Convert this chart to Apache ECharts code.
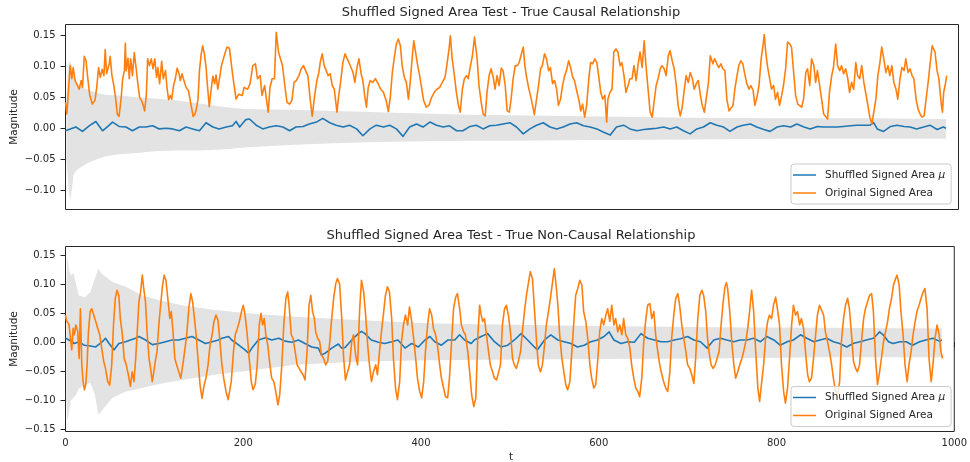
<!DOCTYPE html>
<html>
<head>
<meta charset="utf-8">
<title>Shuffled Signed Area Test</title>
<script src="https://cdn.jsdelivr.net/npm/echarts@6/dist/echarts.min.js"></script>
<style>
  html, body { margin: 0; padding: 0; background: #fff; }
  #chart { width: 970px; height: 462px; }
</style>
</head>
<body>
<div id="chart"></div>
<script>
const muName = 'Shuffled Signed Area μ';
const origName = 'Original Signed Area';
const titles = ['Shuffled Signed Area Test - True Causal Relationship', 'Shuffled Signed Area Test - True Non-Causal Relationship'];

const xTicks = [0, 200, 400, 600, 800, 1000];
const yTicksTop = [-0.10, -0.05, 0.00, 0.05, 0.10, 0.15];
const yTicksBottom = [-0.15, -0.10, -0.05, 0.00, 0.05, 0.10, 0.15];

// [t, value]
const causalOrig = [[0,0.042],[1.5,0.023],[3.4,0.022],[5.2,0.101],[7.1,0.080],[8.6,0.098],[10.8,0.077],[13,0.080],[15.3,0.063],[17.6,0.077],[19,0.066],[21,0.116],[23,0.109],[25,0.080],[27,0.055],[30,0.039],[33,0.045],[35,0.066],[37,0.098],[39,0.082],[41,0.095],[43,0.085],[44.5,0.127],[46,0.088],[49,0.104],[50,0.116],[52,0.085],[54,0.070],[56,0.050],[58,0.023],[60,0.019],[62.4,0.050],[64,0.080],[66,0.093],[67,0.137],[68,0.093],[70,0.113],[71.4,0.080],[73,0.112],[75,0.085],[77,0.122],[79,0.098],[81,0.072],[83,0.050],[85,0.045],[87,0.037],[88.6,0.028],[90.5,0.053],[92,0.112],[94,0.101],[96,0.112],[98,0.096],[100,0.112],[102,0.082],[103.5,0.098],[105.4,0.072],[107.7,0.108],[109.5,0.080],[112,0.093],[113.6,0.066],[115.5,0.046],[117.4,0.053],[119,0.047],[121,0.069],[123,0.080],[125,0.097],[127,0.089],[128.6,0.077],[130.5,0.088],[132,0.080],[135,0.066],[137.6,0.061],[139.4,0.047],[141,0.034],[143,0.019],[145,0.023],[146.5,0.031],[148.4,0.047],[150,0.093],[152,0.120],[153.6,0.133],[155.5,0.120],[157.4,0.098],[159,0.068],[161,0.035],[163,0.061],[165,0.084],[167,0.072],[168.6,0.086],[170.5,0.063],[172.7,0.082],[174.6,0.101],[176.8,0.112],[179,0.123],[181,0.131],[183.6,0.129],
  [187.3,0.085],[191,0.047],[194,0.055],[198,0.053],[200,0.066],[204,0.063],[206.7,0.072],[209.7,0.101],[212.7,0.104],[215,0.080],[218,0.085],[220,0.053],[223,0.069],[225,0.047],[227,0.026],[229,0.066],[231.4,0.080],[234,0.080],[236,0.155],[238.5,0.123],[240.7,0.125],[243,0.101],[245.6,0.069],[248,0.042],[251,0.039],[253.5,0.045],[256,0.074],[258.4,0.077],[261.4,0.085],[264,0.096],[266.5,0.101],[268.8,0.093],[271.4,0.085],[274,0.047],[276.3,0.019],[279,0.053],[281.5,0.077],[283.7,0.090],[285.6,0.109],[287.5,0.120],[289.7,0.101],[292,0.093],[294,0.085],[296.4,0.088],[298.7,0.069],[301,0.063],[304,0.026],[306,0.053],[308,0.074],[310.6,0.106],[313,0.120],[315,0.117],[317.4,0.106],[319.6,0.106],[322,0.090],[324,0.074],[326.4,0.098],[328.6,0.112],[331,0.088],[333,0.077],[335,0.053],[337,0.034],[339,0.066],[341.3,0.077],[344,0.074],[347,0.080],[350,0.072],[353,0.063],[356,0.058],[359,0.045],[361.5,0.027],[363.7,0.050],[366,0.090],[368,0.112],[370.5,0.136],[372.7,0.144],[375,0.133],[377,0.101],[379.4,0.082],[381.7,0.074],[384,0.047],[386,0.074],[388.4,0.117],[390,0.141],[392,0.123],[394.4,0.101],[396.6,0.085],[399,0.063],[401,0.045],[404,0.034],[407,0.037],[410,0.050],[413,0.058],[416,0.063],[419,0.066],[422,0.074],[425,0.082],[427,0.101],[429.5,0.128],[431,0.149],[433,0.112],[435.5,0.085],[437.7,0.058],[440,0.037],[442,0.026],[444.4,0.063],[446.7,0.080],[449,0.085],[451,0.080],[453.5,0.101],[455.7,0.117],[458,0.147],
  [461,0.112],[463,0.069],[465.5,0.042],[467.7,0.023],[470,0.020],[472,0.058],[474.4,0.085],[476.6,0.096],[479,0.082],[481,0.063],[483.3,0.085],[485.6,0.069],[488,0.097],[490,0.093],[492.4,0.069],[494.6,0.028],[497,0.026],[499,0.047],[501.3,0.080],[503.6,0.101],[506,0.101],[508,0.106],[510,0.109],[512.6,0.131],[514.4,0.101],[516,0.085],[518.5,0.066],[520.7,0.053],[523,0.037],[525,0.022],[527.5,0.047],[529.7,0.069],[532,0.096],[534,0.101],[536.4,0.120],[538.6,0.112],[541,0.093],[543,0.098],[545.4,0.072],[547.6,0.077],[550,0.063],[552,0.037],[554.4,0.047],[556.6,0.069],[559,0.085],[561,0.093],[563.4,0.109],[565.6,0.098],[568,0.082],[570,0.077],[572.4,0.061],[574.7,0.047],[577,0.028],[579,0.039],[581.4,0.018],[583.6,0.037],[586,0.080],[588,0.106],[590.4,0.104],[592.7,0.112],[595,0.106],[597,0.085],[599.4,0.058],[601.5,0.047],[604,0.053],[606,0.010],[607.4,0.047],[609.7,0.058],[612,0.063],[614,0.123],[616.4,0.128],[618.6,0.123],[621,0.101],[623,0.106],[625.4,0.085],[627.6,0.058],[630,0.069],[632,0.080],[634.4,0.080],[636.6,0.101],[639,0.077],[641,0.101],[643.4,0.123],[645.7,0.098],[648,0.141],[650,0.101],[652.4,0.063],[654.7,0.026],[657,0.018],[659,0.020],[661.4,0.069],[663.6,0.080],[666,0.096],[668,0.101],[670.4,0.096],[672.6,0.085],[675,0.117],[677,0.125],[679.4,0.109],[681.6,0.096],[684,0.069],[686,0.037],[688.4,0.020],[690.6,0.034],[693,0.063],[695,0.085],[697.4,0.074],[699.6,0.090],[702,0.080],[704,0.063],[706.4,0.072],[708.6,0.077],[711,0.053],[713,0.037],[715.4,0.026],[717.6,0.028],[720,0.074],
  [722,0.117],[725,0.104],[727,0.112],[729.4,0.104],[731.6,0.098],[734,0.104],[736,0.096],[738.4,0.093],[740.6,0.047],[743,0.028],[745,0.027],[747.5,0.037],[749.5,0.063],[752,0.085],[754,0.101],[756.3,0.109],[758.5,0.104],[761,0.085],[763,0.072],[765.4,0.063],[767.5,0.069],[770,0.061],[772,0.037],[774.3,0.050],[776.6,0.069],[779,0.112],[781,0.133],[782.5,0.151],[784,0.125],[786,0.101],[788.5,0.080],[790.6,0.063],[793,0.069],[795,0.047],[797.4,0.058],[799.6,0.037],[802,0.053],[804,0.069],[806.4,0.096],[808.6,0.139],[811,0.136],[813,0.131],[815.4,0.090],[817.6,0.053],[820,0.039],[822,0.037],[824.4,0.034],[826.5,0.047],[829,0.090],[831,0.096],[833.4,0.069],[835.5,0.112],[838,0.101],[840,0.074],[842,0.093],[844.5,0.069],[846.7,0.047],[849,0.023],[851,0.020],[853.4,0.015],[855.5,0.058],[858,0.085],[860,0.098],[862.5,0.136],[864.6,0.101],[867,0.093],[869,0.101],[871.4,0.088],[873.6,0.096],[876,0.080],[878,0.058],[880.4,0.074],[882.6,0.063],[885,0.106],[887,0.085],[889.4,0.080],[891.6,0.101],[894,0.074],[896,0.058],[898.5,0.037],[900.7,0.018],[903,0.007],[905,0.004],[907.5,0.047],[909.7,0.085],[912,0.106],[914,0.131],[916.4,0.112],[918.6,0.090],[921,0.101],[923,0.085],[925.4,0.101],[927.6,0.074],[930,0.063],[932,0.047],[934.5,0.080],[936.6,0.098],[939,0.093],[941,0.112],[943.5,0.090],[945.7,0.096],[948,0.085],[950,0.080],[952.5,0.047],[954.7,0.031],[957,0.023],[959,0.018],[961.5,0.020],[963.7,0.047],[966,0.074],[968,0.101],[970.5,0.133],[972,0.136],[973.7,0.123],[976,0.093],[978,0.080],[980.5,0.042],[982,0.026],[983.4,0.058],[985,0.069],[986.8,0.085]];

const causalMu = [[0,-0.004],[11.6,0.002],[19,-0.005],[26.5,0.004],[34,0.011],[41.5,-0.004],[49,0.005],[52.7,0.010],[60,0.003],[67.7,0.002],[75,-0.004],[82.6,0.002],[90,0.002],[97.6,0.004],[105,-0.001],[112.5,0.000],[120,-0.001],[127.5,-0.004],[135,0.002],[142.4,-0.001],[150,-0.004],[157.4,0.009],[165,0.002],[172,-0.001],[180,0.002],[187,0.004],[191,0.011],[195,0.002],[202,0.014],[206,0.015],[213.5,0.005],[221,-0.001],[228,0.002],[236,0.004],[243.4,0.002],[251,-0.004],[258,0.002],[266,0.003],[273,0.007],[281,0.010],[288,0.016],[296,0.009],[303,0.005],[311,0.002],[318,0.005],[326,-0.001],[333,-0.012],[341,-0.001],[348,0.005],[356,0.002],[363,0.005],[370.5,-0.001],[378,-0.013],[385.4,0.002],[393,0.007],[400.4,0.002],[408,0.010],[415.5,0.005],[423,0.002],[430,0.004],[438,-0.004],[445,-0.004],[453,0.003],[460,0.005],[467.7,-0.001],[475,0.004],[482.6,0.005],[490,0.007],[497.6,0.009],[505,0.002],[512.6,-0.009],[520,-0.001],[527.5,0.005],[535,0.009],[542.5,0.002],[550,-0.001],[557.4,0.002],[565,0.007],[572.4,0.009],[580,0.004],[587.5,0.002],[595,-0.001],[602,-0.006],[610,-0.011],[617,0.002],[625,0.005],[632,-0.001],[640,-0.004],[647.5,-0.002],[655,-0.001],[662,0.000],[670,0.002],[677,-0.001],[684.5,0.002],[692,-0.004],[699.5,-0.009],[707,-0.001],[714.4,0.002],[722,0.009],[729.4,0.005],[737,0.002],[744,-0.005],[752,0.002],[759,0.005],[767,0.007],[774,0.002],[782,-0.002],[789,-0.005],[797,0.002],[804,0.004],[812,0.002],[819,0.007],[827,0.002],[834,-0.001],[842,0.003],[849,0.002],[856.5,0.002],[864,0.002],[871,0.003],[879,0.004],[886,0.005],[894,0.005],[901,0.005],[905,0.009],[909,-0.001],[916,-0.005],[924,0.003],[931,0.005],[939,0.003],[946,0.002],[953,-0.001],[961,0.002],[968,0.005],[976,-0.002],[983,0.002],[986,0.000]];

// [t, lower, upper]
const causalBand = [[1,-0.050,0.050],[3,-0.090,0.100],[5,-0.117,0.109],[7,-0.100,0.100],[9,-0.075,0.085],[12,-0.068,0.075],[18,-0.062,0.066],[25,-0.056,0.062],[35,-0.050,0.057],[45,-0.045,0.054],[60,-0.042,0.053],[80,-0.040,0.050],[100,-0.037,0.048],[125,-0.036,0.045],[150,-0.036,0.040],[180,-0.034,0.034],[200,-0.031,0.031],[250,-0.027,0.030],[300,-0.024,0.028],[350,-0.022,0.026],[400,-0.021,0.024],[450,-0.020,0.022],[500,-0.020,0.021],[600,-0.019,0.019],[700,-0.018,0.017],[800,-0.017,0.016],[900,-0.017,0.016],[986,-0.017,0.015]];

const nonCausalOrig = [[0,0.047],[1,0.038],[2.6,0.041],[4,0.030],[5.6,0.007],[7,-0.013],[8.6,0.024],[10,0.013],[11.6,0.030],[13.8,0.018],[15.3,-0.028],[16.8,0.058],[18.3,-0.039],[19.8,-0.068],[21.3,-0.082],[22.8,-0.073],[24.3,-0.039],[25.8,0.018],[27.7,0.053],[29.5,0.058],[31.8,0.047],[34,0.036],[36.3,0.024],[38.5,0.013],[40.7,-0.010],[43,-0.033],[45,-0.045],[47.5,-0.068],[49.7,-0.074],[52,-0.039],[54,0.030],[56,0.076],[58,0.090],[60,0.081],[61.7,0.041],[64,0.013],[66,-0.028],[68.4,-0.039],[70.7,-0.056],[73,-0.076],[75,-0.051],[77,-0.068],[79,-0.028],[80.7,0.018],[82.6,0.070],[84.5,0.087],[86.4,0.116],[88,0.093],[90,0.070],[92,0.013],[94,-0.028],[95.7,-0.045],[97.6,-0.068],[99.4,-0.051],[101,-0.033],[103,-0.016],[105,0.030],[107,0.064],[109,0.096],[111,0.116],[113,0.107],[115.5,0.070],[117.4,0.041],[119,0.053],[121,0.018],[123,-0.028],[125,-0.039],[127.5,-0.051],[129.7,-0.062],[132,-0.039],[134,-0.016],[136.4,0.013],[138.7,0.058],[141,0.084],[143,0.070],[144.7,0.047],[147,0.013],[149,-0.028],[151.4,-0.074],[153.6,-0.097],[156,-0.074],[158,-0.062],[160.4,-0.039],[162.6,-0.005],[165,0.013],[167,0.036],[169.3,0.047],[171.6,0.038],[173.8,0.001],[176,-0.039],[178,-0.062],[180.6,-0.085],[183,-0.099],
  [186.5,-0.068],[189,-0.016],[191,0.013],[193.4,0.024],[195.6,0.036],[198,0.053],[200,0.064],[202,0.047],[204.5,0.013],[206.7,-0.028],[209,-0.068],[211,-0.082],[213.5,-0.073],[215.7,-0.039],[218,0.030],[220,0.050],[221.7,0.030],[223.6,0.041],[225.4,0.013],[227.6,-0.005],[230,-0.039],[232,-0.062],[234.4,-0.068],[236.6,-0.085],[239,-0.108],[241,-0.091],[243.4,-0.039],[245.6,0.030],[248,0.076],[250,0.087],[251.6,0.064],[254,0.013],[256,0.007],[258.4,-0.016],[260.6,-0.039],[263,-0.045],[265,-0.051],[267.3,-0.056],[269.5,-0.065],[271.8,-0.016],[274,0.064],[276,0.081],[278,0.053],[280,0.041],[281.5,0.018],[283.7,0.007],[286,0.001],[288,-0.022],[290.5,-0.028],[292.7,-0.039],[295,-0.033],[297,-0.005],[299.5,0.041],[301.7,0.076],[304,0.101],[306,0.110],[308.4,0.101],[310.6,0.047],[313,-0.028],[315,-0.065],[317.4,-0.051],[319.6,-0.039],[322,0.001],[324,0.013],[326.4,-0.022],[328.6,-0.039],[331,0.058],[333,0.107],[335.5,0.087],[337.7,0.047],[340,-0.005],[342,-0.039],[344.3,-0.068],[346.5,-0.051],[349,-0.039],[351,-0.056],[353.3,-0.016],[355.5,0.018],[358,0.053],[360,0.081],[362.3,0.096],[364.5,0.087],[367,0.041],[369,-0.028],[371.3,-0.079],[373.5,-0.099],[376,-0.068],[378,0.001],[380.3,0.030],[382.5,0.047],[385,0.030],[387,0.061],[389.5,0.036],[391.7,0.007],[394,-0.028],[396,-0.062],[398.5,-0.085],[400.7,-0.096],[403,-0.068],[405,-0.016],[407.4,0.030],[409.6,0.058],[412,0.047],[414,0.024],[416.4,0.013],[418.5,-0.005],[421,-0.039],[423,-0.062],[425.4,-0.079],[427.6,-0.094],[430,-0.096],[432,-0.062],[434.4,0.001],[436.6,0.058],[439,0.078],[441,0.084],[443.5,0.058],[445.4,0.030],[448,0.018],[450,0.013],[452.6,-0.016],
  [455,-0.056],[457,-0.091],[459.4,-0.111],[461.7,-0.096],[464,0.013],[466,0.064],[467.7,0.047],[469.5,0.036],[471.4,0.041],[473.6,0.013],[476,-0.016],[478,-0.039],[480.4,-0.051],[482.6,-0.062],[485,-0.065],[487,-0.068],[489.4,-0.039],[491.6,0.030],[494,0.058],[496,0.064],[498.3,0.047],[500.6,0.018],[503,-0.028],[505,-0.039],[507.3,-0.045],[509.5,-0.033],[512,-0.016],[514,0.018],[516.4,0.053],[518.6,0.081],[521,0.104],[523,0.122],[525.4,0.110],[527.6,0.058],[530,0.001],[532,-0.039],[534.4,-0.051],[536.6,-0.039],[539,-0.005],[541,0.030],[543.4,0.053],[545.6,0.076],[548,0.104],[550,0.127],[552,0.099],[554,0.064],[556,0.013],[558.5,-0.028],[560.7,-0.051],[563,-0.074],[565,-0.082],[567.5,-0.068],[569.7,-0.016],[572,0.036],[574,0.081],[576.4,0.093],[578.6,0.107],[581,0.099],[583,0.053],[585.4,0.036],[587.6,0.007],[590,-0.039],[592,-0.062],[594.4,-0.079],[596.6,-0.073],[599,-0.028],[601,0.018],[603.4,0.041],[605.6,0.030],[608,0.047],[610,0.058],[612.4,0.036],[614.6,0.064],[617,0.030],[619,0.041],[621.4,0.018],[623.6,0.030],[626,0.013],[628,0.041],[630.4,0.013],[632.6,0.007],[635,-0.010],[637,-0.039],[639.4,-0.062],[641.6,-0.079],[644,-0.085],[646,-0.094],[648.4,-0.062],[650.6,0.001],[653,0.041],[655,0.064],[657.5,0.067],[659.6,0.041],[662,0.053],[664,0.013],[666.4,-0.016],[668.6,-0.039],[671,-0.056],[673,-0.068],[675.4,-0.079],[677.6,-0.085],[680,-0.051],[682,0.007],[684.4,0.047],[686.6,0.076],[689,0.084],[691,0.064],[693.4,0.030],[695.6,0.007],[698,-0.016],[700,-0.039],[702.4,-0.045],[704.6,-0.056],[707,-0.071],[709,-0.028],[711.4,0.041],[713.7,0.081],[716,0.090],[718,0.081],[720.4,0.053],
  [722,0.013],[724,-0.016],[726.4,-0.039],[728.6,-0.045],[731,-0.039],[733,-0.039],[735.4,-0.016],[737.6,0.030],[740,0.070],[742,0.096],[743.6,0.103],[745,0.093],[747.4,0.053],[749.6,0.001],[752,-0.039],[754,-0.062],[756.4,-0.051],[758.6,-0.039],[761,-0.028],[763,-0.016],[765.4,0.001],[767.6,0.024],[770,0.058],[772,0.090],[774.3,0.053],[776.6,-0.016],[779,-0.079],[781,-0.102],[783,-0.073],[785.5,-0.039],[788,0.013],[790,0.036],[792,0.047],[794.4,0.041],[796.6,0.064],[799,0.078],[801,0.058],[803.4,0.030],[805.6,-0.039],[808,-0.085],[810,-0.105],[812.4,-0.079],[814.6,-0.028],[817,0.030],[819,0.064],[821.4,0.047],[823.6,0.053],[826,0.030],[828,0.041],[830.4,0.024],[832.6,-0.016],[835,-0.056],[837,-0.068],[839.4,-0.062],[841.6,-0.028],[844,0.013],[846,0.047],[848.4,0.064],[850.6,0.067],[853,0.047],[855,0.018],[857.4,0.001],[859.6,-0.016],[862,-0.039],[864,-0.062],[866.4,-0.085],[868.6,-0.094],[871,-0.068],[873,0.001],[875.4,0.041],[877.6,0.064],[880,0.076],[882,0.058],[884.4,0.013],[886.6,-0.033],[889,-0.045],[891,-0.051],[893.4,-0.039],[895.6,0.001],[898,0.041],[900,0.058],[902.4,0.070],[904.6,0.081],[907,0.084],[909,0.053],[911.4,-0.028],[913.6,-0.073],[916,-0.051],[918,-0.028],[920.4,0.001],[922.6,0.018],[925,0.036],[927,0.058],[929.4,0.076],[931.6,0.099],[934,0.110],[935.6,0.116],[938,0.099],[940,0.053],[942.4,0.013],[944.6,-0.039],[947,-0.068],[949,-0.039],[951.4,-0.016],[953.6,0.013],[956,0.036],[958,0.053],[960.4,0.064],[962.6,0.076],[965,0.087],[967,0.093],[969.4,0.058],[971.6,-0.028],[974,-0.068],[976,-0.039],[978.4,0.007],[980.6,0.030],[983,0.013],[985,-0.016],[986.8,-0.028]];

const nonCausalMu = [[0,0.007],[4,0.004],[10,-0.002],[15,0.001],[21,-0.005],[26.5,-0.006],[34,-0.008],[41.5,0.001],[45,0.007],[49,-0.002],[54.6,-0.013],[60,-0.002],[67.7,0.001],[73,0.004],[79,0.007],[82.6,0.010],[90,0.004],[97.6,-0.004],[105,-0.002],[112.5,0.001],[120,0.004],[127.5,0.004],[135,0.007],[142.4,0.010],[150,0.004],[157.4,-0.002],[165,0.001],[172,0.004],[176,0.007],[183.5,0.010],[187,0.004],[195,-0.005],[202,-0.013],[206,-0.019],[209.7,-0.010],[217,0.004],[225,0.008],[232,0.004],[240,0.007],[247,0.002],[254.6,0.000],[262,0.004],[269.5,-0.002],[277,-0.008],[284.5,-0.010],[288,-0.022],[292,-0.019],[299.5,-0.010],[307,-0.003],[310.6,-0.010],[314.6,-0.009],[322,0.004],[329.4,0.015],[333,0.019],[337,0.015],[344,0.004],[352,0.000],[359,-0.002],[367,0.001],[374,0.004],[382,-0.010],[389.5,-0.002],[397,-0.008],[404.4,0.004],[410,0.010],[415.5,0.001],[423,-0.005],[430.4,0.004],[438,0.004],[443.4,0.013],[449,0.004],[456.5,-0.002],[460,0.004],[467.7,0.010],[475,0.015],[482.6,0.001],[490,-0.008],[497.6,-0.005],[505,0.004],[512.6,0.015],[520,0.004],[527.5,-0.008],[531,-0.013],[539,0.004],[546,0.013],[554,0.004],[561,0.001],[568.6,-0.002],[576,-0.008],[583.6,-0.005],[591,0.001],[598.5,0.004],[606,0.010],[611.6,0.018],[617,0.004],[625,-0.002],[632.6,0.001],[640,0.000],[647.5,0.015],[655,0.007],[662.6,0.004],[670,0.001],[677.6,0.001],[685,0.004],[692,0.006],[700,0.010],[707,0.004],[714.4,0.001],[722,-0.010],[729.4,0.004],[737,0.007],[744,0.004],[752,0.001],[759,0.004],[767,0.004],[774,0.007],[782,0.001],[789,0.010],[797,0.004],[804,-0.005],[812,0.001],[819,0.004],[827,0.013],[834,0.007],[842,0.001],[849,0.004],[856.5,0.007],[864,0.001],[871,-0.002],[879,-0.008],[886,-0.002],[894,0.001],[901,0.004],[909,0.007],[913,0.013],[916,0.018],[920,0.013],[926,0.001],[931,-0.002],[939,0.001],[946,0.001],[953,-0.005],[961,0.001],[968,0.004],[976,0.007],[983,0.002],[986,0.004]];

const nonCausalBand = [[1,-0.100,0.100],[2,-0.137,0.150],[4,-0.120,0.125],[6,-0.100,0.116],[9,-0.096,0.120],[12,-0.090,0.100],[15,-0.080,0.081],[22,-0.074,0.078],[28,-0.070,0.087],[33,-0.090,0.110],[37,-0.125,0.127],[41,-0.118,0.118],[53,-0.096,0.104],[68,-0.085,0.096],[86,-0.079,0.081],[105,-0.072,0.073],[131,-0.065,0.064],[168,-0.056,0.056],[205,-0.049,0.050],[258,-0.039,0.044],[333,-0.033,0.038],[408,-0.031,0.033],[464,-0.030,0.031],[600,-0.029,0.028],[730,-0.028,0.026],[850,-0.026,0.025],[986,-0.026,0.024]];

const blue = '#1f77b4';
const orange = '#ff7f0e';
const ink = '#262626';
const font = '"DejaVu Sans", sans-serif';

function fmt(v) {
    return (v < 0 ? '\u2212' : '') + Math.abs(v).toFixed(2);
}

function makeX(i, withLabels) {
    return {
        type: 'value', gridIndex: i, min: 0, max: 1000, interval: 200,
        axisLine: { show: false },
        splitLine: { show: false },
        axisTick: { show: true, length: 5, lineStyle: { color: ink, width: 1 } },
        axisLabel: { show: withLabels, fontSize: 10, color: ink, margin: 7, fontFamily: font,
            customValues: xTicks, formatter: function (v) { return String(v); } },
    };
}

function makeY(i, min, max, ticks) {
    return {
        type: 'value', gridIndex: i, min: min, max: max,
        axisLine: { show: false },
        splitLine: { show: false },
        axisTick: { show: true, length: 5, customValues: ticks, lineStyle: { color: ink, width: 1 } },
        axisLabel: { fontSize: 10, color: ink, margin: 10, fontFamily: font,
            customValues: ticks, formatter: fmt },
    };
}

function bandSeries(i, band) {
    return {
        type: 'custom', xAxisIndex: i, yAxisIndex: i, silent: true, z: 1,
        data: [[0, 0]],
        renderItem: function (params, api) {
            const pts = [];
            band.forEach(function (b) { pts.push(api.coord([b[0], b[2]])); });
            for (let k = band.length - 1; k >= 0; k--) pts.push(api.coord([band[k][0], band[k][1]]));
            return { type: 'polygon', shape: { points: pts }, style: { fill: '#e3e3e3' } };
        }
    };
}

function lineSeries(i, name, data, color) {
    return {
        type: 'line', name: name, xAxisIndex: i, yAxisIndex: i,
        data: data, symbol: 'none', showSymbol: false, z: 2,
        lineStyle: { color: color, width: 1.6, join: 'round' },
        itemStyle: { color: color },
    };
}

function makeLegend(top) {
    return {
        left: 791, top: top, orient: 'vertical', selectedMode: false,
        data: [muName, origName],
        icon: 'rect', itemWidth: 23, itemHeight: 1.5, itemGap: 7,
        padding: [5.5, 6, 5.5, 2],
        backgroundColor: 'rgba(255,255,255,0.8)', borderColor: '#cccccc', borderWidth: 1, borderRadius: 3,
        formatter: function (name) { return name.replace('μ', '{it|μ}'); },
        textStyle: { fontSize: 10.5, color: ink, fontFamily: font, padding: [0, 0, 0, 4],
            rich: { it: { fontStyle: 'italic', fontSize: 10.5, color: ink, fontFamily: font } } },
    };
}

function label(text, x, y, size, rotation) {
    return {
        type: 'text', x: x, y: y, rotation: rotation || 0, silent: true,
        style: { text: text, font: size + 'px ' + font, fill: ink,
            textAlign: 'center', textVerticalAlign: 'middle' },
    };
}

const chart = echarts.init(document.getElementById('chart'), null, { renderer: 'canvas' });
chart.setOption({
    animation: false,
    backgroundColor: '#fff',
    textStyle: { fontFamily: font },
    grid: [
        { left: 65.5, top: 24.5, width: 893, height: 185, show: true, borderColor: ink, borderWidth: 1 },
        { left: 65.5, top: 246.5, width: 893, height: 185, show: true, borderColor: ink, borderWidth: 1 },
    ],
    xAxis: [makeX(0, false), makeX(1, true)],
    yAxis: [makeY(0, -0.131, 0.1674, yTicksTop), makeY(1, -0.1541, 0.1655, yTicksBottom)],
    legend: [makeLegend(164), makeLegend(386.5)],
    graphic: [
        label(titles[0], 511, 13, 13),
        label(titles[1], 511, 235.5, 13),
        label('Magnitude', 14, 117, 10.5, Math.PI / 2),
        label('Magnitude', 14, 339, 10.5, Math.PI / 2),
        label('t', 511, 457, 10.5),
    ],
    series: [
        bandSeries(0, causalBand),
        lineSeries(0, muName, causalMu, blue),
        lineSeries(0, origName, causalOrig, orange),
        bandSeries(1, nonCausalBand),
        lineSeries(1, muName, nonCausalMu, blue),
        lineSeries(1, origName, nonCausalOrig, orange),
    ],
});
</script>
</body>
</html>
